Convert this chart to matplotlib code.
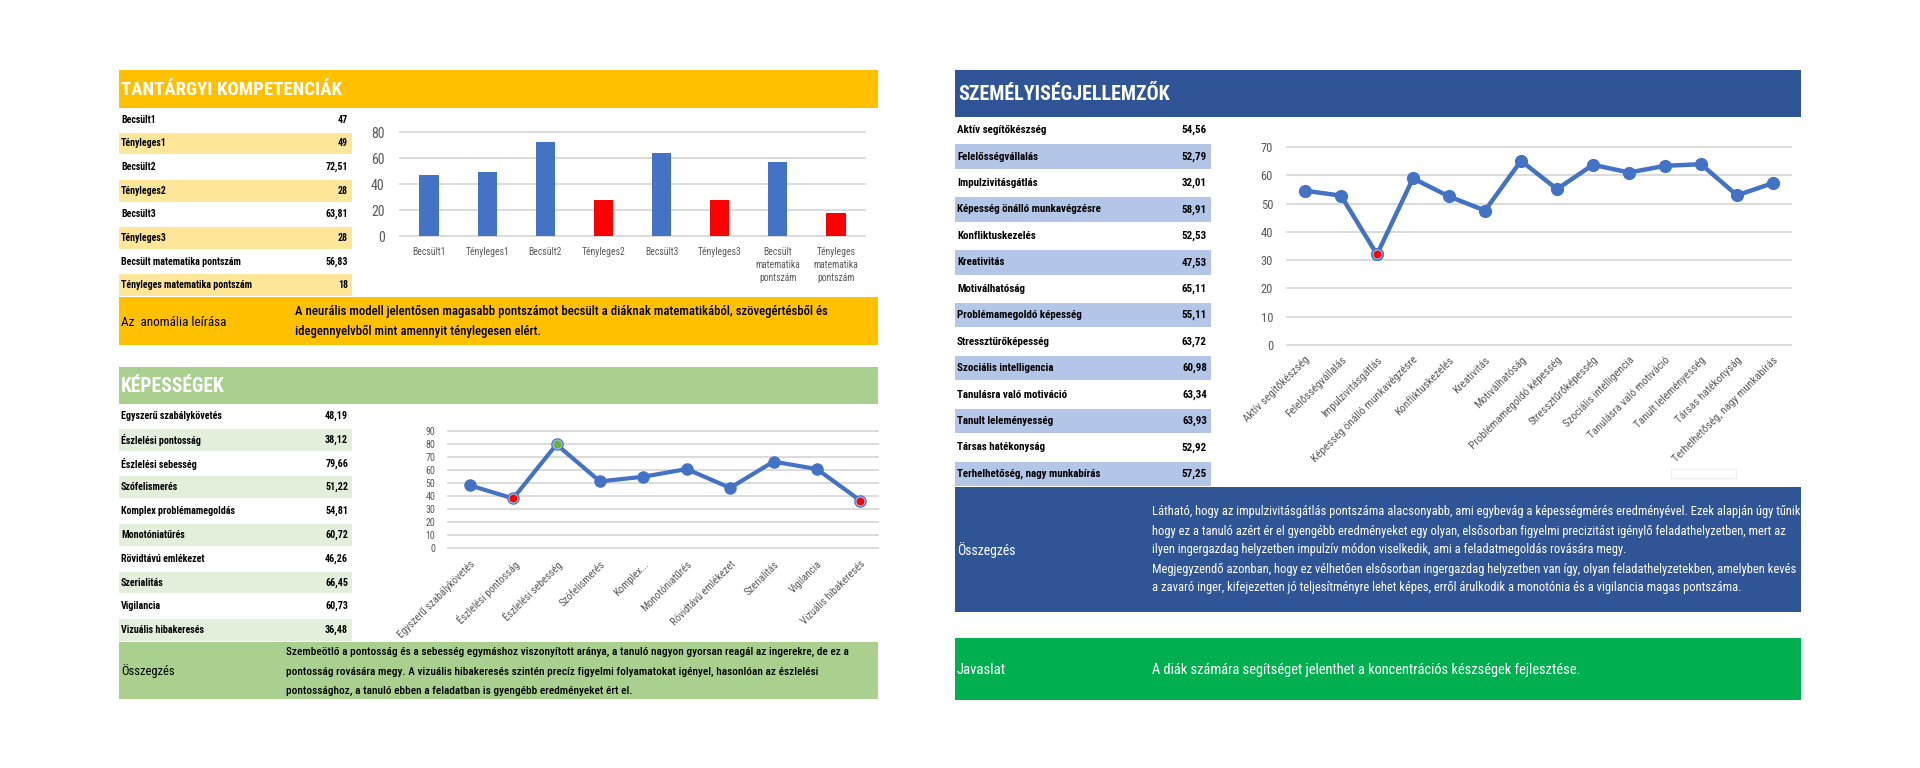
import matplotlib
matplotlib.use('Agg')
import matplotlib.pyplot as plt
import matplotlib.font_manager as fm
from matplotlib.patches import Rectangle

# ---------------- data ----------------
comp_labels = ['Becsült1', 'Tényleges1', 'Becsült2', 'Tényleges2', 'Becsült3',
               'Tényleges3', 'Becsült matematika pontszám', 'Tényleges matematika pontszám']
comp_values = [47, 49, 72.51, 28, 63.81, 28, 56.83, 18]
comp_ticklabels = ['Becsült1', 'Tényleges1', 'Becsült2', 'Tényleges2', 'Becsült3',
                   'Tényleges3', 'Becsült\nmatematika\npontszám', 'Tényleges\nmatematika\npontszám']
comp_colors = ['#4472C4', '#4472C4', '#4472C4', '#FF0000', '#4472C4', '#FF0000', '#4472C4', '#FF0000']

skill_labels = ['Egyszerű szabálykövetés', 'Észlelési pontosság', 'Észlelési sebesség', 'Szófelismerés',
                'Komplex problémamegoldás', 'Monotóniatűrés', 'Rövidtávú emlékezet', 'Szerialitás',
                'Vigilancia', 'Vizuális hibakeresés']
skill_ticklabels = ['Egyszerű szabálykövetés', 'Észlelési pontosság', 'Észlelési sebesség', 'Szófelismerés',
                    'Komplex...', 'Monotóniatűrés', 'Rövidtávú emlékezet', 'Szerialitás',
                    'Vigilancia', 'Vizuális hibakeresés']
skill_values = [48.19, 38.12, 79.66, 51.22, 54.81, 60.72, 46.26, 66.45, 60.73, 36.48]
skill_low = [1, 9]
skill_high = [2]

pers_labels = ['Aktív segítőkészség', 'Felelősségvállalás', 'Impulzivitásgátlás',
               'Képesség önálló munkavégzésre', 'Konfliktuskezelés', 'Kreativitás', 'Motiválhatóság',
               'Problémamegoldó képesség', 'Stressztűrőképesség', 'Szociális intelligencia',
               'Tanulásra való motiváció', 'Tanult leleményesség', 'Társas hatékonyság',
               'Terhelhetőség, nagy munkabírás']
pers_values = [54.56, 52.79, 32.01, 58.91, 52.53, 47.53, 65.11, 55.11, 63.72, 60.98, 63.34, 63.93, 52.92, 57.25]
pers_low = [2]

title_comp = 'TANTÁRGYI KOMPETENCIÁK'
title_skill = 'KÉPESSÉGEK'
title_pers = 'SZEMÉLYISÉGJELLEMZŐK'
anomaly_label = 'Az  anomália leírása'
anomaly_lines = ['A neurális modell jelentősen magasabb pontszámot becsült a diáknak matematikából, szövegértésből és',
                 'idegennyelvből mint amennyit ténylegesen elért.']
skill_sum_label = 'Összegzés'
skill_sum_lines = ['Szembeötlő a pontosság és a sebesség egymáshoz viszonyított aránya, a tanuló nagyon gyorsan reagál az ingerekre, de ez a',
                   'pontosság rovására megy. A vizuális hibakeresés szintén precíz figyelmi folyamatokat igényel, hasonlóan az észlelési',
                   'pontossághoz, a tanuló ebben a feladatban is gyengébb eredményeket ért el.']
pers_sum_label = 'Összegzés'
pers_sum_lines = ['Látható, hogy az impulzivitásgátlás pontszáma alacsonyabb, ami egybevág a képességmérés eredményével. Ezek alapján úgy tűnik,',
                  'hogy ez a tanuló azért ér el gyengébb eredményeket egy olyan, elsősorban figyelmi precizitást igénylő feladathelyzetben, mert az',
                  'ilyen ingergazdag helyzetben impulzív módon viselkedik, ami a feladatmegoldás rovására megy.',
                  'Megjegyzendő azonban, hogy ez vélhetően elsősorban ingergazdag helyzetben van így, olyan feladathelyzetekben, amelyben kevés',
                  'a zavaró inger, kifejezetten jó teljesítményre lehet képes, erről árulkodik a monotónia és a vigilancia magas pontszáma.']
advice_label = 'Javaslat'
advice_text = 'A diák számára segítséget jelenthet a koncentrációs készségek fejlesztése.'


def fmt(v):
    s = ('%.2f' % v).rstrip('0').rstrip('.')
    return s.replace('.', ',')

# ---------------- font ----------------
def pick_font():
    names = {f.name for f in fm.fontManager.ttflist}
    for n in ['Roboto Condensed', 'Liberation Sans Narrow', 'DejaVu Sans Condensed',
              'Open Sans Condensed', 'Noto Sans Condensed', 'Arial Narrow']:
        if n in names:
            return dict(family=n)
    for f in fm.fontManager.ttflist:
        if f.stretch in ('condensed', 'semi-condensed', 'extra-condensed'):
            return dict(family=f.name, stretch=f.stretch)
    return dict(family='DejaVu Sans')

FONT = pick_font()

W, H = 1920, 768
fig = plt.figure(figsize=(19.2, 7.68), dpi=100)
fig.patch.set_facecolor('white')
bg = fig.add_axes([0, 0, 1, 1])
bg.set_xlim(0, W)
bg.set_ylim(H, 0)
bg.axis('off')
renderer = fig.canvas.get_renderer()


def rect(x0, y0, x1, y1, color, edge='none'):
    bg.add_patch(Rectangle((x0, y0), x1 - x0, y1 - y0, facecolor=color, edgecolor=edge, lw=1, zorder=0))


def size_for(s, width, weight='normal'):
    t = bg.text(0, 0, s, fontsize=10, weight=weight, **FONT)
    w = t.get_window_extent(renderer).width
    t.remove()
    return 10.0 * width / w


def txt(x, y, s, size, ha='left', va='center', color='black', weight='normal'):
    return bg.text(x, y, s, fontsize=size, ha=ha, va=va, color=color, weight=weight, zorder=3, **FONT)


def px_axes(x0, y_top, x1, y_bot):
    return fig.add_axes([x0 / W, 1 - y_bot / H, (x1 - x0) / W, (y_bot - y_top) / H])


def clean(ax):
    for s in ax.spines.values():
        s.set_visible(False)
    ax.patch.set_alpha(0)


GRAY = '#595959'
GRID = '#D9D9D9'
BLUE = '#4472C4'
DESC_W = 'medium'

# ================= LEFT PANEL =================
LX0, LX1 = 119, 878
rect(LX0, 70, LX1, 108, '#FFC000')
txt(121, 90, title_comp, size_for(title_comp, 212, 'bold') * 1.03, color='white', weight='bold')

tsz = size_for('Becsült matematika pontszám', 120, 'bold')
row_h = (297 - 108) / len(comp_labels)
for i, (lab, v) in enumerate(zip(comp_labels, comp_values)):
    y0 = 108 + i * row_h
    if i % 2 == 1:
        rect(LX0, y0 + 1, 352, y0 + row_h - 1, '#FFE699')
    txt(121, y0 + row_h / 2, lab, tsz, weight='bold')
    txt(348, y0 + row_h / 2, fmt(v), tsz, ha='right', weight='bold')

# bar chart
ax1 = px_axes(400, 132, 865, 236)
ax1.set_xlim(-0.5, len(comp_values) - 0.5)
ax1.set_ylim(0, 80)
for g in range(0, 81, 20):
    ax1.axhline(g, color=GRID, lw=1.3, zorder=0, clip_on=False)
ax1.bar(range(len(comp_values)), comp_values, width=0.33, color=comp_colors, zorder=2)
ax1.set_yticks(range(0, 81, 20))
ax1.set_xticks(range(len(comp_values)))
ax1.set_yticklabels([str(v) for v in range(0, 81, 20)], fontsize=10, color=GRAY, **FONT)
ax1.set_xticklabels(comp_ticklabels, fontsize=size_for('Becsült1', 33), color=GRAY, linespacing=1.35, **FONT)
ax1.tick_params(axis='x', length=0, pad=8)
ax1.tick_params(axis='y', length=0, pad=11)
clean(ax1)

# anomaly box
rect(LX0, 297, LX1, 345, '#FFC000')
txt(121, 322, anomaly_label, size_for(anomaly_label, 105))
asz = size_for(anomaly_lines[0], 529, DESC_W)
txt(295, 312, anomaly_lines[0], asz, weight=DESC_W)
txt(295, 332, anomaly_lines[1], asz, weight=DESC_W)

# header 2
rect(LX0, 367, LX1, 404, '#A9D08E')
txt(121, 386, title_skill, size_for(title_skill, 100, 'bold') * 1.03, color='white', weight='bold')

tsz2 = size_for('Komplex problémamegoldás', 113, 'bold')
row_h2 = (642 - 404) / len(skill_labels)
for i, (lab, v) in enumerate(zip(skill_labels, skill_values)):
    y0 = 404 + i * row_h2
    if i % 2 == 1:
        rect(LX0, y0 + 1, 352, y0 + row_h2 - 1, '#E2EFDA')
    txt(121, y0 + row_h2 / 2, lab, tsz2, weight='bold')
    txt(348, y0 + row_h2 / 2, fmt(v), tsz2, ha='right', weight='bold')

# line chart 2
ax2 = px_axes(448, 431, 882, 548)
ax2.set_xlim(-0.5, len(skill_values) - 0.5)
ax2.set_ylim(0, 90)
for g in range(0, 91, 10):
    ax2.axhline(g, xmax=0.99, color=GRID, lw=1.3, zorder=0, clip_on=False)
xs = list(range(len(skill_values)))
ax2.plot(xs, skill_values, color=BLUE, lw=3.0, marker='o', ms=8, zorder=3, clip_on=False)
ax2.plot([xs[i] for i in skill_low], [skill_values[i] for i in skill_low], 'o', ms=6.5,
         color='#FF0000', mec='#9DC3E6', mew=0.8, zorder=4, clip_on=False)
ax2.plot([xs[i] for i in skill_high], [skill_values[i] for i in skill_high], 'o', ms=6.5,
         color='#70AD47', mec='#9DC3E6', mew=0.8, zorder=4, clip_on=False)
ax2.set_yticks(range(0, 91, 10))
ax2.set_yticklabels([str(v) for v in range(0, 91, 10)], fontsize=7.2, color=GRAY, **FONT)
ax2.set_xticks(xs)
ax2.set_xticklabels(skill_ticklabels, fontsize=size_for('Egyszerű szabálykövetés', 104), color=GRAY,
                    rotation=45, ha='right', rotation_mode='anchor', **FONT)
ax2.tick_params(axis='x', length=0, pad=8)
ax2.tick_params(axis='y', length=0, pad=9)
clean(ax2)

# summary box
rect(LX0, 642, LX1, 699, '#A9D08E')
txt(121, 671, skill_sum_label, size_for(skill_sum_label, 53))
ssz = size_for(skill_sum_lines[0], 560, DESC_W)
for k, line in enumerate(skill_sum_lines):
    txt(286, 652 + k * 19.5, line, ssz, weight=DESC_W)

# ================= RIGHT PANEL =================
RX0, RX1 = 955, 1801
rect(RX0, 70, RX1, 117, '#2F5597')
txt(958, 94, title_pers, size_for(title_pers, 210, 'bold'), color='white', weight='bold')

tsz3 = size_for('Terhelhetőség, nagy munkabírás', 144, 'bold')
row_h3 = (487 - 117) / len(pers_labels)
for i, (lab, v) in enumerate(zip(pers_labels, pers_values)):
    y0 = 117 + i * row_h3
    if i % 2 == 1:
        rect(RX0, y0 + 1, 1211, y0 + row_h3 - 1, '#B4C6E7')
    txt(957, y0 + row_h3 / 2, lab, tsz3, weight='bold')
    txt(1207, y0 + row_h3 / 2, fmt(v), tsz3, ha='right', weight='bold')

ax3 = px_axes(1287, 147, 1791, 345)
ax3.set_xlim(-0.5, len(pers_values) - 0.5)
ax3.set_ylim(0, 70)
for g in range(0, 71, 10):
    ax3.axhline(g, color=GRID, lw=1.3, zorder=0, clip_on=False)
xs3 = list(range(len(pers_values)))
ax3.plot(xs3, pers_values, color=BLUE, lw=3.2, marker='o', ms=8.5, zorder=3, clip_on=False)
ax3.plot([xs3[i] for i in pers_low], [pers_values[i] for i in pers_low], 'o', ms=6.5,
         color='#FF0000', mec='#9DC3E6', mew=0.8, zorder=4, clip_on=False)
ax3.set_yticks(range(0, 71, 10))
ax3.set_yticklabels([str(v) for v in range(0, 71, 10)], fontsize=9, color=GRAY, **FONT)
ax3.set_xticks(xs3)
ax3.set_xticklabels(pers_labels, fontsize=size_for('Képesség önálló munkavégzésre', 145), color=GRAY,
                    rotation=45, ha='right', rotation_mode='anchor', **FONT)
ax3.tick_params(axis='x', length=0, pad=7)
ax3.tick_params(axis='y', length=0, pad=10)
clean(ax3)

# faint empty legend frame left in the chart area
rect(1671, 469, 1736, 478, 'none', edge='#EFEFEF')

# summary box
rect(RX0, 487, RX1, 612, '#2F5597')
txt(957, 550, pers_sum_label, size_for(pers_sum_label, 58), color='white')
psz = size_for(pers_sum_lines[0], 645)
for k, line in enumerate(pers_sum_lines):
    txt(1152, 512 + k * 19, line, psz, color='white')

# advice box
rect(RX0, 638, RX1, 700, '#00B050')
txt(957, 670, advice_label, size_for(advice_label, 49), color='white')
txt(1152, 670, advice_text, size_for(advice_text, 424), color='white')

fig.savefig('out.png', dpi=100, facecolor='white')
